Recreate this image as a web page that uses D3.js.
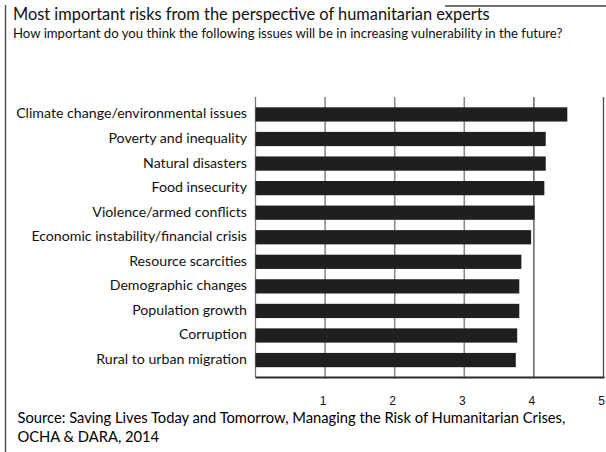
<!DOCTYPE html>
<html>
<head>
<meta charset="utf-8">
<script src="https://cdn.jsdelivr.net/npm/d3@7"></script>
<style>
  html, body { margin: 0; padding: 0; background: #fff; }
  svg { display: block; }
</style>
</head>
<body>
<svg id="chart" width="606" height="452"></svg>
<script>
// Survey items, top to bottom
const categories = [
  "Climate change/environmental issues",
  "Poverty and inequality",
  "Natural disasters",
  "Food insecurity",
  "Violence/armed conflicts",
  "Economic instability/financial crisis",
  "Resource scarcities",
  "Demographic changes",
  "Population growth",
  "Corruption",
  "Rural to urban migration"
];
// Mean importance score (scale 1–5)
const scores = [4.48, 4.17, 4.17, 4.15, 4.01, 3.96, 3.82, 3.79, 3.79, 3.76, 3.74];
const tickValues = [1, 2, 3, 4, 5];

const titleText = "Most important risks from the perspective of humanitarian experts";
const subtitleText = "How important do you think the following issues will be in increasing vulnerability in the future?";
const sourceLines = [
  "Source: Saving Lives Today and Tomorrow, Managing the Risk of Humanitarian Crises,",
  "OCHA & DARA, 2014"
];

const svg = d3.select("#chart");
const humanist = "Lato, 'Open Sans', sans-serif";

// scale a text's font size so it spans a given width
function fitWidth(sel, target) {
  const w = sel.node().getComputedTextLength();
  const fs = parseFloat(sel.attr("font-size"));
  const nfs = fs * target / w;
  sel.attr("font-size", nfs);
  return nfs;
}

// frame lines
svg.append("line").attr("x1", 5.5).attr("x2", 5.5).attr("y1", 5).attr("y2", 452)
  .attr("stroke", "#555").attr("stroke-width", 1.5);
svg.append("line").attr("x1", 445).attr("x2", 606).attr("y1", 6).attr("y2", 6)
  .attr("stroke", "#444").attr("stroke-width", 1.5);

// titles
const title = svg.append("text").attr("x", 13).attr("y", 19.5)
  .attr("font-family", humanist).attr("font-size", 14).attr("fill", "#111")
  .text(titleText);
fitWidth(title, 477);
const sub = svg.append("text").attr("x", 13).attr("y", 38)
  .attr("font-family", humanist).attr("font-size", 10).attr("fill", "#111")
  .text(subtitleText);
fitWidth(sub, 550);

// plot area
const x = d3.scaleLinear().domain([0, 5]).range([255.5, 603.5]);
const y = d3.scaleBand().domain(categories).range([97, 377.5]).paddingInner(0.42).paddingOuter(0.42);

// vertical grid lines
const grid = svg.append("g");
grid.selectAll("line").data(tickValues).join("line")
  .attr("x1", d => x(d)).attr("x2", d => x(d))
  .attr("y1", 97).attr("y2", 377.5)
  .attr("stroke", d => d >= 4 ? "#4a4a4a" : "#8c8c8c")
  .attr("stroke-width", d => d >= 4 ? 1.3 : 1.6);

// category axis line
svg.append("line").attr("x1", x(0)).attr("x2", x(0)).attr("y1", 97).attr("y2", 377.5)
  .attr("stroke", "#777").attr("stroke-width", 1.3);

// bars
svg.append("g").selectAll("rect").data(scores).join("rect")
  .attr("x", x(0))
  .attr("y", (d, i) => y(categories[i]))
  .attr("width", d => x(d) - x(0))
  .attr("height", y.bandwidth())
  .attr("fill", "#1f1f1f");

// value axis baseline
svg.append("line").attr("x1", x(0)).attr("x2", x(5) + 1).attr("y1", 377.5).attr("y2", 377.5)
  .attr("stroke", "#2a2a2a").attr("stroke-width", 2);

// category labels
const labels = svg.append("g").selectAll("text").data(categories).join("text")
  .attr("x", 247)
  .attr("y", d => y(d) + y.bandwidth() / 2 - 1)
  .attr("dy", "0.35em")
  .attr("text-anchor", "end")
  .attr("font-family", humanist).attr("font-size", 12).attr("fill", "#111")
  .text(d => d);
const longest = labels.filter((d, i) => i === 0);
const lfs = fitWidth(longest, 231);
labels.attr("font-size", lfs);

// tick labels
svg.append("g").selectAll("text").data(tickValues).join("text")
  .attr("x", d => x(d) - 2)
  .attr("y", 404.5)
  .attr("text-anchor", "middle")
  .attr("font-family", "'Liberation Sans Narrow', 'Liberation Sans', sans-serif")
  .attr("font-size", 12).attr("fill", "#111")
  .text(d => d);

// source note
const src1 = svg.append("text").attr("x", 17.5).attr("y", 423)
  .attr("font-family", "Lato, 'Open Sans', sans-serif").attr("font-size", 15).attr("fill", "#000")
  .text(sourceLines[0]);
const sfs = fitWidth(src1, 548);
svg.append("text").attr("x", 17.5).attr("y", 442)
  .attr("font-family", "Lato, 'Open Sans', sans-serif").attr("font-size", sfs).attr("fill", "#000")
  .text(sourceLines[1]);
</script>
</body>
</html>
